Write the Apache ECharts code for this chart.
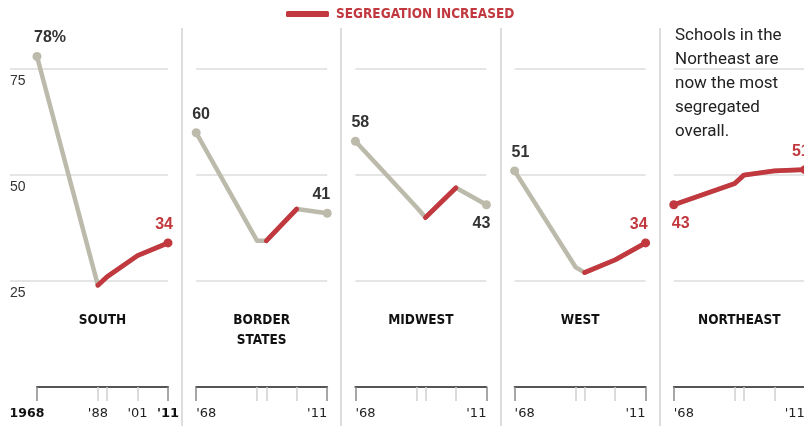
<!DOCTYPE html>
<html><head><meta charset="utf-8">
<script src="https://cdn.jsdelivr.net/npm/echarts@6/dist/echarts.min.js"></script>
<style>html,body{margin:0;padding:0;background:#fff}#c{width:804px;height:426px}</style>
</head><body><div id="c"></div>
<script>
// ---- data ----
const years = [1968, 1988, 1991, 2001, 2011];
const regions = ['SOUTH', 'BORDER\nSTATES', 'MIDWEST', 'WEST', 'NORTHEAST'];
const south = [78, 24, 26, 31, 34];
const borderStates = [60, 34.5, 34.5, 42, 41];
const midwest = [58, 42.5, 40, 47, 43];
const west = [51, 28.3, 27, 30, 34];
const northeast = [43, 48, 50, 51, 51.3];
const yTicks = [25, 50, 75];
const southLabelYears = [1968, 1988, 2001, 2011];
const southTickLabels = ['1968', "'88", "'01", "'11"];
const otherLabelYears = [1968, 2011];
const otherTickLabels = ["'68", "'11"];
const note = 'Schools in the\nNortheast are\nnow the most\nsegregated\noverall.';
const legendLabel = 'SEGREGATION INCREASED';
const values = [south, borderStates, midwest, west, northeast];

// ---- layout / style ----
const P0 = 37, STEP = 159.2, W = 131, TOP = 48, BOTTOM = 39, YMAX = 80;
const RED = '#c1393f', GRAY = '#bcbbab', DARK = '#333333';
const FONT = "'Liberation Sans', Arial, sans-serif";
const NARROW = "'Liberation Sans Narrow', 'DejaVu Sans Condensed', sans-serif";
const TICKFONT = "'DejaVu Sans', Verdana, sans-serif";
const labelCfg = [
  {first: {pos: 'top', align: 'left', dx: -3, pct: true}, last: {pos: 'top', align: 'right', dx: 5}},
  {first: {pos: 'top', align: 'left', dx: -4}, last: {pos: 'top', align: 'right', dx: 3}},
  {first: {pos: 'top', align: 'left', dx: -4}, last: {pos: 'bottom', align: 'right', dx: 4}},
  {first: {pos: 'top', align: 'left', dx: -3}, last: {pos: 'top', align: 'right', dx: 2}},
  {first: {pos: 'bottom', align: 'left', dx: -2}, last: {pos: 'top', align: 'center', dx: -4}}
];

const grids = [], xAxes = [], yAxes = [], series = [], titles = [], graphics = [];
const splitStyle = {show: true, showMinLine: false, showMaxLine: false, lineStyle: {color: '#dcdcdc', width: 1.5}};

// background grid for South's y labels + long gridlines
grids.push({left: 10, top: TOP, width: 158, bottom: BOTTOM, outerBoundsMode: 'none', containLabel: false});
xAxes.push({gridIndex: 0, type: 'value', min: 0, max: 1, show: false});
yAxes.push({gridIndex: 0, type: 'value', min: 0, max: YMAX, interval: 25,
  axisLine: {show: false}, axisTick: {show: false}, splitLine: splitStyle,
  axisLabel: {inside: true, margin: 0, verticalAlign: 'top', padding: [5, 0, 0, 0], color: DARK,
    fontSize: 14, fontFamily: FONT, formatter: v => yTicks.includes(v) ? String(v) : ''}});

function labelOf(cfg, color, k, vals) {
  return {show: true, position: cfg.pos, align: cfg.align, offset: [cfg.dx, 0], distance: 6,
    color: color, fontSize: 16, fontWeight: 'bold', fontFamily: FONT,
    formatter: () => String(Math.round(vals[k])) + (cfg.pct ? '%' : '')};
}

values.forEach((vals, i) => {
  const left = P0 + i * STEP;
  const g = i + 1;
  grids.push({left: left, top: TOP, width: W, bottom: BOTTOM, outerBoundsMode: 'none', containLabel: false});
  const isSouth = i === 0;
  const lblYears = isSouth ? southLabelYears : otherLabelYears;
  const lblTexts = isSouth ? southTickLabels : otherTickLabels;
  xAxes.push({gridIndex: g, type: 'value', min: years[0], max: years[years.length - 1], position: 'bottom',
    axisLine: {show: true, lineStyle: {color: '#555', width: 2}},
    axisTick: {show: true, customValues: years.slice(1, -1), length: 14, lineStyle: {color: '#cfcfcf', width: 1.5}},
    splitLine: {show: false},
    axisLabel: {show: true, customValues: lblYears, margin: 20, fontSize: 13, color: '#222',
      fontFamily: TICKFONT,
      alignMinLabel: isSouth ? 'center' : 'left', alignMaxLabel: isSouth ? 'center' : 'right',
      formatter: v => {
        const t = lblTexts[lblYears.indexOf(v)];
        if (isSouth && v === years[0]) return '{m|' + t + '}';
        if (isSouth && v === years[years.length - 1]) return '{b|' + t + '}';
        return t;
      },
      rich: {
        b: {fontWeight: 'bold', fontSize: 13, fontFamily: TICKFONT, color: '#111'},
        m: {fontWeight: 'bold', fontSize: 12.5, fontFamily: TICKFONT, color: '#111', padding: [0, 20, 0, 0]}
      }}
  });
  xAxes.push({gridIndex: g, type: 'value', min: years[0], max: years[years.length - 1], position: 'bottom',
    axisLine: {show: false}, splitLine: {show: false}, axisLabel: {show: false},
    axisTick: {show: true, customValues: [years[0], years[years.length - 1]], length: 14, lineStyle: {color: '#8a8a8a', width: 1.5}}
  });
  yAxes.push({gridIndex: g, type: 'value', min: 0, max: YMAX, interval: 25,
    axisLine: {show: false}, axisTick: {show: false}, axisLabel: {show: false},
    splitLine: isSouth ? {show: false} : splitStyle});

  const n = vals.length;
  const up = vals.slice(0, -1).map((v, k) => vals[k + 1] > v);
  const isRed = k => (k > 0 && up[k - 1]) || (k < n - 1 && up[k]);
  const cfg = labelCfg[i];
  const xi = 1 + 2 * i;

  const grayData = vals.map((v, k) => {
    const item = {value: [years[k], v]};
    const end = k === 0 || k === n - 1;
    if (end && !isRed(k)) {
      item.symbol = 'circle'; item.symbolSize = 9;
      item.label = labelOf(k === 0 ? cfg.first : cfg.last, DARK, k, vals);
    }
    return item;
  });
  series.push({type: 'line', name: 'base', xAxisIndex: xi, yAxisIndex: g, data: grayData,
    symbol: 'none', clip: false, silent: true, z: 2,
    lineStyle: {color: GRAY, width: 4.5, cap: 'round', join: 'round'}, itemStyle: {color: GRAY},
    label: {show: false}});

  const redData = vals.map((v, k) => {
    if (!isRed(k)) return {value: [years[k], '-']};
    const item = {value: [years[k], v]};
    if (k === 0 || k === n - 1) {
      item.symbol = 'circle'; item.symbolSize = 9;
      item.label = labelOf(k === 0 ? cfg.first : cfg.last, RED, k, vals);
    }
    return item;
  });
  series.push({type: 'line', name: legendLabel, xAxisIndex: xi, yAxisIndex: g, data: redData,
    symbol: 'none', clip: false, silent: true, z: 3, connectNulls: false,
    lineStyle: {color: RED, width: 4.8, cap: 'round', join: 'round'}, itemStyle: {color: RED},
    label: {show: false}});

  titles.push({text: regions[i], left: left + W / 2, top: 310, textAlign: 'center', padding: 0,
    textStyle: {fontSize: 13.5, fontWeight: 'bold', fontFamily: NARROW, color: '#111', lineHeight: 20}});
  if (i < values.length - 1) {
    const x = Math.round((left + W + P0 + (i + 1) * STEP) / 2);
    graphics.push({type: 'line', silent: true, shape: {x1: x, y1: 28, x2: x, y2: 426},
      style: {stroke: '#dddddd', lineWidth: 2}});
  }
});

titles.push({text: note, left: 675, top: 24, padding: 0,
  textStyle: {fontSize: 17, fontWeight: 'normal', fontFamily: "Roboto, 'Liberation Sans', sans-serif", color: '#222', lineHeight: 24}});

const chart = echarts.init(document.getElementById('c'), null, {renderer: 'canvas'});
chart.setOption({
  animation: false,
  backgroundColor: '#fff',
  title: titles,
  legend: {data: [legendLabel], left: 286, top: 7, icon: 'roundRect', itemWidth: 43, itemHeight: 6,
    selectedMode: false, padding: 0,
    textStyle: {color: RED, fontWeight: 'bold', fontSize: 13.5, fontFamily: NARROW, padding: [0, 0, 0, 2]}},
  grid: grids, xAxis: xAxes, yAxis: yAxes, series: series, graphic: graphics
});
</script></body></html>
